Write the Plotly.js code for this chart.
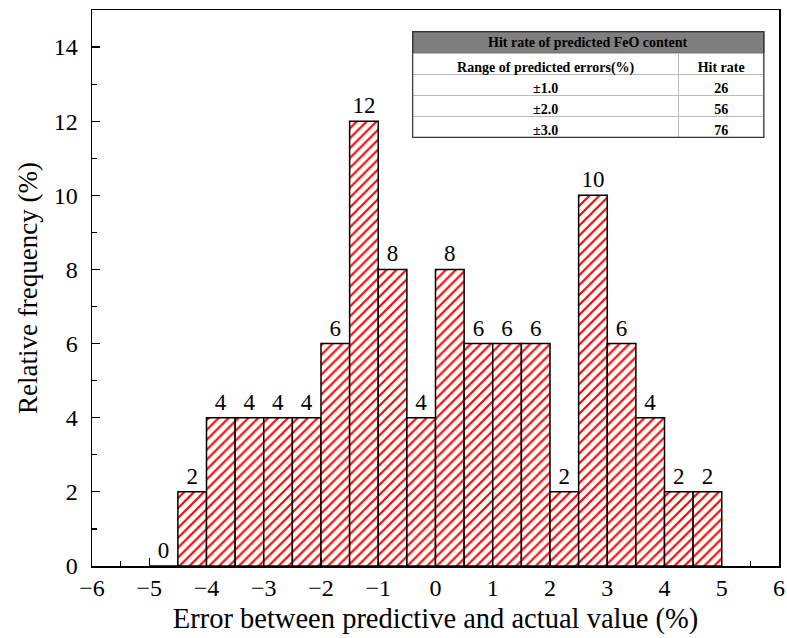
<!DOCTYPE html>
<html>
<head>
<meta charset="utf-8">
<script src="https://cdn.plot.ly/plotly-3.0.1.min.js"></script>
<style>html,body{margin:0;padding:0;background:#fff;}#chart{width:787px;height:638px;}</style>
</head>
<body>
<div id="chart"></div>
<script>
// Histogram bins (left edges, width 0.5) and relative frequencies (%)
var binLeftEdges = [-5, -4.5, -4, -3.5, -3, -2.5, -2, -1.5, -1, -0.5, 0, 0.5, 1, 1.5, 2, 2.5, 3, 3.5, 4, 4.5];
var frequencies  = [0, 2, 4, 4, 4, 4, 6, 12, 8, 4, 8, 6, 6, 6, 2, 10, 6, 4, 2, 2];
var binWidth = 0.5;

// Table content
var tableTitle = "Hit rate of predicted FeO content";
var tableHeaders = ["Range of predicted errors(%)", "Hit rate"];
var errorRanges = ["±1.0", "±2.0", "±3.0"];
var hitRates = ["26", "56", "76"];

var xTickVals = [-6, -5, -4, -3, -2, -1, 0, 1, 2, 3, 4, 5, 6];
var yTickVals = [0, 2, 4, 6, 8, 10, 12, 14];

var centers = binLeftEdges.map(function(e){ return e + binWidth/2; });
var FONT = "Liberation Serif";

var bars = {
  type: "bar",
  x: centers,
  y: frequencies,
  width: binWidth,
  text: frequencies.map(String),
  textposition: "outside",
  cliponaxis: false,
  textfont: {family: FONT, size: 23, color: "#000"},
  marker: {
    color: "#fff",
    line: {color: "#000", width: 1.5},
    pattern: {shape: "/", fgcolor: "#ff0000", bgcolor: "#ffffff", size: 7, solidity: 0.3}
  },
  showlegend: false,
  hoverinfo: "skip"
};

var mainTable = {
  type: "table",
  domain: {x: [0.4668, 0.978], y: [0.762, 0.922]},
  columnwidth: [266, 85],
  header: {
    values: tableHeaders,
    fill: {color: "#fff"},
    line: {color: "#bbb", width: 1},
    font: {family: FONT, size: 14, color: "#000", weight: "bold"},
    align: "center",
    height: 21
  },
  cells: {
    values: [errorRanges, hitRates],
    fill: {color: "#fff"},
    line: {color: "#bbb", width: 1},
    font: {family: FONT, size: 14, color: "#000", weight: "bold"},
    align: "center",
    height: 21
  }
};

var layout = {
  width: 787, height: 638,
  margin: {l: 92, r: 8, t: 10, b: 72},
  paper_bgcolor: "#fff",
  plot_bgcolor: "#fff",
  font: {family: FONT, color: "#000"},
  bargap: 0,
  xaxis: {
    range: [-6, 6],
    tickvals: xTickVals,
    ticks: "inside", ticklen: 8, tickwidth: 1.2, tickcolor: "#000",
    minor: {dtick: 0.5, ticks: "inside", ticklen: 5, tickwidth: 1.2, tickcolor: "#000", showgrid: false},
    showline: true, linecolor: "#000", linewidth: 1.5, mirror: true,
    showgrid: false, zeroline: false,
    tickfont: {family: FONT, size: 24, color: "#000"},
    title: {text: "Error between predictive and actual value (%)", font: {family: FONT, size: 28.5, color: "#000"}, standoff: 8}
  },
  yaxis: {
    range: [0, 15],
    tickvals: yTickVals,
    ticks: "inside", ticklen: 8, tickwidth: 1.2, tickcolor: "#000",
    minor: {dtick: 1, ticks: "inside", ticklen: 5, tickwidth: 1.2, tickcolor: "#000", showgrid: false},
    showline: true, linecolor: "#000", linewidth: 1.5, mirror: true,
    showgrid: false, zeroline: false,
    ticklabelstandoff: 8,
    tickfont: {family: FONT, size: 24, color: "#000"},
    title: {text: "Relative frequency (%)", font: {family: FONT, size: 27, color: "#000"}, standoff: 8}
  },
  shapes: [
    {type: "rect", xref: "paper", yref: "paper", x0: 0.4668, x1: 0.978, y0: 0.922, y1: 0.961,
     fillcolor: "#7f7f7f", line: {color: "#333", width: 1}, layer: "below"},
    {type: "rect", xref: "paper", yref: "paper", x0: 0.4668, x1: 0.978, y0: 0.771, y1: 0.961,
     line: {color: "#333", width: 1.2}, layer: "above"}
  ],
  annotations: [
    {xref: "paper", yref: "paper", x: 0.7224, y: 0.9415, text: tableTitle, showarrow: false,
     font: {family: FONT, size: 14, color: "#000", weight: "bold"}, xanchor: "center", yanchor: "middle"}
  ]
};

Plotly.newPlot("chart", [bars, mainTable], layout, {displayModeBar: false, staticPlot: true});
</script>
</body>
</html>
